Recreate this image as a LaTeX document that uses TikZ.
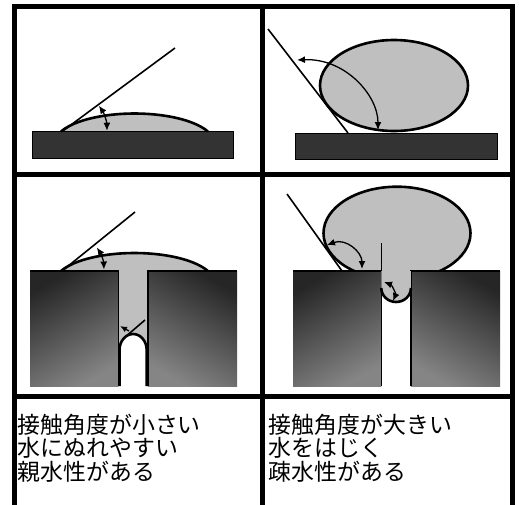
\documentclass[tikz,border=0pt]{standalone}
\usepackage{fontspec}
\newfontfamily\jpfont{Noto Sans CJK JP}
\usetikzlibrary{arrows.meta}

\tikzset{
  rule/.style={line width=5pt},
  plate/.style={fill=black!80, draw=black, line width=0.8pt},
  dropfill/.style={fill=black!25},
  droprim/.style={line width=2.6pt},
  tanline/.style={line width=1.6pt},
  anglearc/.style={line width=1.3pt, {Latex[length=8pt,width=7pt]}-{Latex[length=8pt,width=7pt]}},
  caption/.style={font=\jpfont\fontsize{22.9}{23.3}\selectfont, anchor=north west, inner sep=0pt, align=left}
}

\begin{document}
\begin{tikzpicture}[x=1pt, y=-1pt]
  \useasboundingbox (0,0) rectangle (520,504);
  \clip (0,0) rectangle (520,504);

  % Flat caps (top-left and bottom-left)
  \foreach \yb in {131.5,271} {
    \fill[dropfill] (61,\yb) arc[start angle=203.3, end angle=336.7, x radius=80, y radius=29.75] -- cycle;
  }

  % Plates
  \filldraw[plate] (32,131.5) rectangle (233,158);
  \filldraw[plate] (295,133) rectangle (497,159);

  % Round drop sitting on the plate
  \filldraw[dropfill, droprim] (394,85.5) ellipse[x radius=74, y radius=45.5];

  % Liquid pulled down into the left slit
  \fill[dropfill] (118.3,270) rectangle (147.9,352);

  % Round drop over the right slit
  \filldraw[dropfill, droprim] (397,233.2) ellipse[x radius=73.5, y radius=46.5];

  % Slotted blocks
  \foreach \dx in {0,263} {
    \shade[top color=black!85, bottom color=black!48, shading angle=30] (30+\dx,271) rectangle (118.3+\dx,386);
    \shade[top color=black!85, bottom color=black!48, shading angle=-30] (147.9+\dx,271) rectangle (237+\dx,386);
    \draw[line width=1.2pt] (30+\dx,271) -- (118.3+\dx,271) -- (118.3+\dx,386);
    \draw[line width=1.2pt] (237+\dx,271) -- (147.9+\dx,271) -- (147.9+\dx,386);
  }

  % Bulge hanging into the right slit
  \fill[dropfill] (381.3,271) -- (381.3,288) arc[start angle=180, end angle=0, x radius=14.8, y radius=14] -- (410.9,271) -- cycle;
  \draw[droprim] (381.3,288) arc[start angle=180, end angle=0, x radius=14.8, y radius=14];

  % Rims of the flat caps
  \foreach \yb in {131.5,271} {
    \draw[droprim] (61,\yb) arc[start angle=203.3, end angle=336.7, x radius=80, y radius=29.75];
  }

  % Meniscus in the left slit
  \fill[white] (119.5,386) -- (119.5,350) arc[start angle=180, end angle=360, x radius=13.6, y radius=16] -- (146.7,386) -- cycle;
  \draw[droprim] (119.5,386) -- (119.5,350) arc[start angle=180, end angle=360, x radius=13.6, y radius=16] -- (146.7,386);

  % Tangent lines
  \coordinate (cp1) at (62,131.5);
  \coordinate (cp3) at (62,271);
  \draw[tanline] (cp1) -- (175,48);
  \draw[tanline] (268,29) -- (348,133);
  \draw[tanline] (cp3) -- (135,212);
  \draw[tanline] (124,338) -- (145,320);
  \draw[tanline] (287,194) -- (342,271);
  \draw[line width=1.4pt] (381.3,243) -- (381.3,271);

  % Contact angles
  \draw[anglearc] ([shift={(325:45)}]cp1) arc[start angle=325, end angle=359, radius=45];
  \draw[anglearc] (297,60) .. controls (345,58) and (378,95) .. (378,130);
  \draw[anglearc] ([shift={(326:42)}]cp3) arc[start angle=326, end angle=358, radius=42];
  \draw[line width=1.3pt, -{Latex[length=7pt,width=6pt]}] (129,331) -- (120,326);
  \draw[anglearc] (327,245) .. controls (346,238) and (362,252) .. (362,269);
  \draw[anglearc] (384,282) .. controls (392,285) and (396,294) .. (393,301);

  % Panel rules
  \draw[rule] (14,6) rectangle (512.5,520);
  \draw[rule] (262.5,6) -- (262.5,520);
  \draw[rule] (14,174) -- (512.5,174);
  \draw[rule] (14,396) -- (512.5,396);

  % Captions
  \node[caption] (hydrophilic) at (17.5,414) {接触角度が小さい\\水にぬれやすい\\親水性がある};
  \node[caption] (hydrophobic) at (268.5,414) {接触角度が大きい\\水をはじく\\疎水性がある};
\end{tikzpicture}
\end{document}
